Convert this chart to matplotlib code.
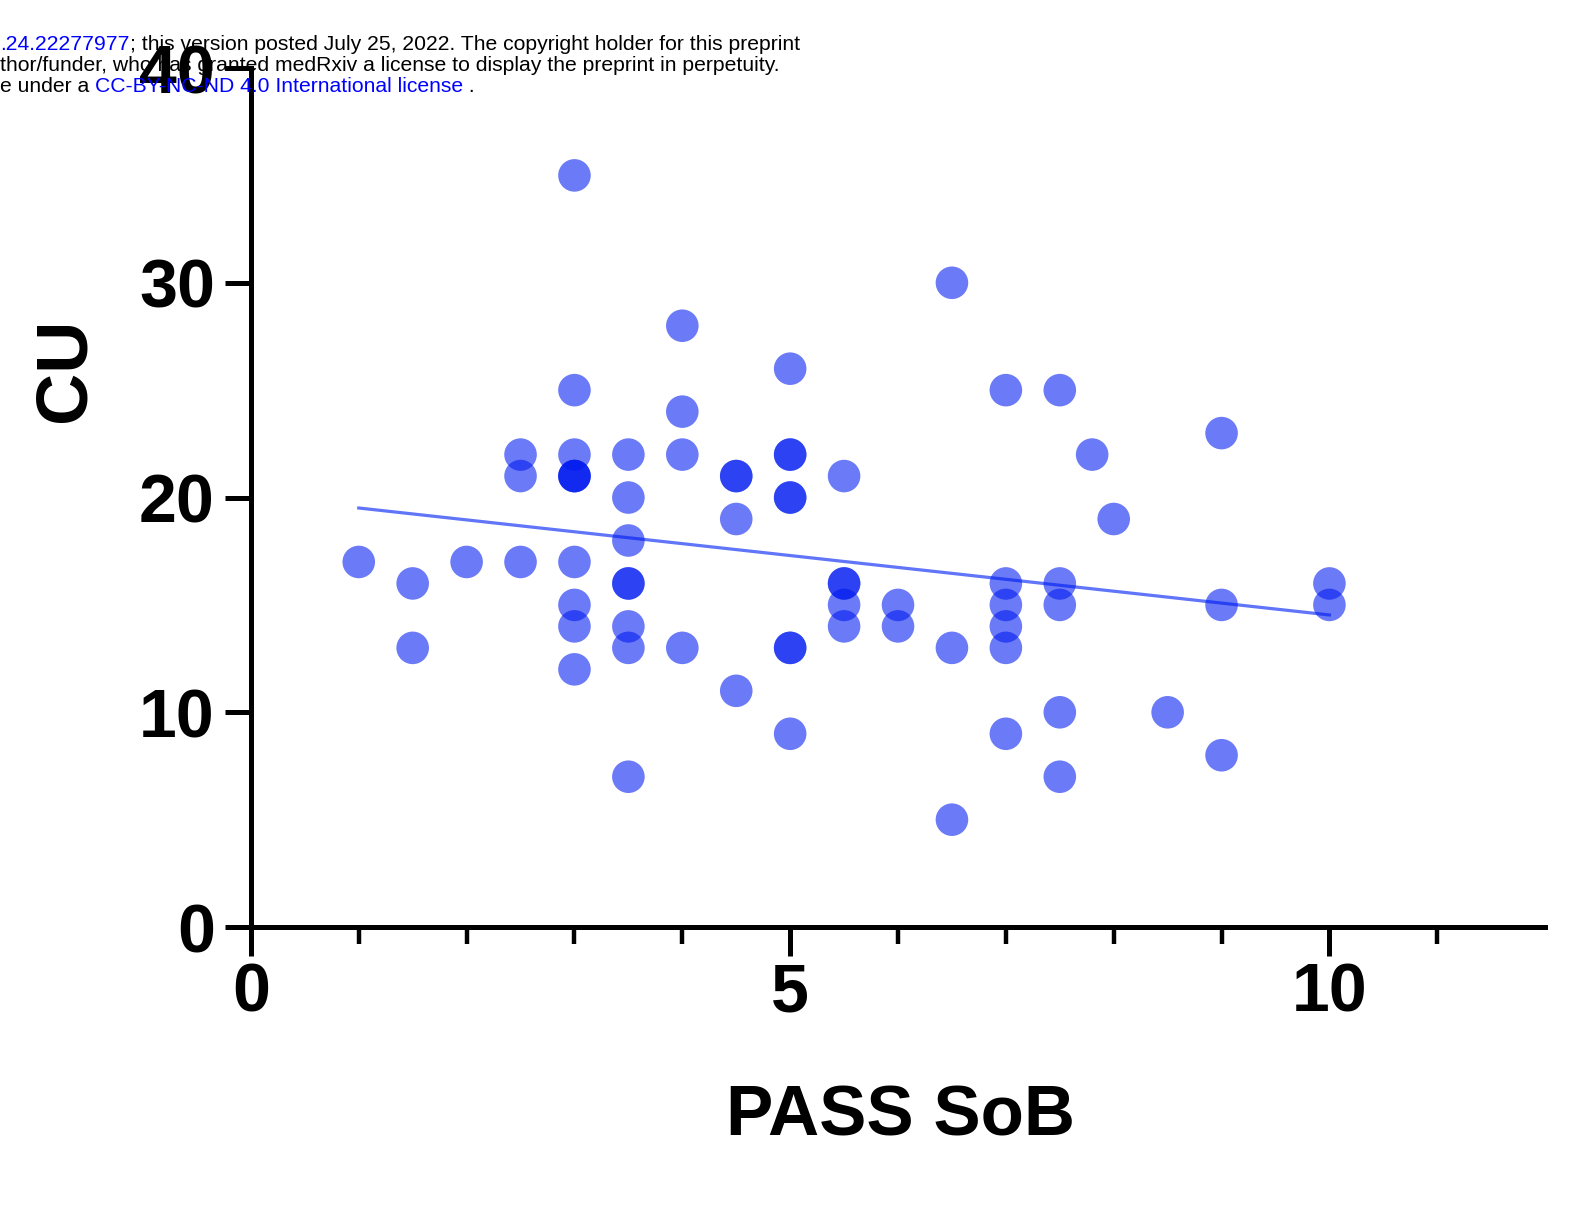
import numpy as np
import matplotlib
matplotlib.use("Agg")
import matplotlib.pyplot as plt
from matplotlib.ticker import FixedLocator

plt.rcParams['font.family'] = ['Liberation Sans', 'DejaVu Sans']

# PASS SoB vs CU (repeats = stacked dots)
pass_sob = [3, 6.5, 4, 3, 5, 7, 7.5, 4, 9,
            2.5, 3, 3.5, 4, 5, 5, 7.8,
            2.5, 3, 3, 3, 4.5, 4.5, 5.5,
            3.5, 5, 5, 4.5, 8, 3.5,
            1, 2, 2.5, 3,
            1.5, 3.5, 3.5, 5.5, 5.5, 7, 7.5, 10,
            3, 5.5, 6, 7, 7.5, 9, 10,
            3, 3.5, 5.5, 6, 7,
            1.5, 3.5, 4, 5, 5, 6.5, 7,
            3, 4.5, 7.5, 8.5, 5, 7, 9, 3.5, 7.5, 6.5]
cu = [35, 30, 28, 25, 26, 25, 25, 24, 23,
      22, 22, 22, 22, 22, 22, 22,
      21, 21, 21, 21, 21, 21, 21,
      20, 20, 20, 19, 19, 18,
      17, 17, 17, 17,
      16, 16, 16, 16, 16, 16, 16, 16,
      15, 15, 15, 15, 15, 15, 15,
      14, 14, 14, 14, 14,
      13, 13, 13, 13, 13, 13, 13,
      12, 11, 10, 10, 9, 9, 8, 7, 7, 5]

x_major = [0, 5, 10]
x_minor = [1, 2, 3, 4, 6, 7, 8, 9, 11]
y_major = [0, 10, 20, 30, 40]

dot_color = (0.0, 0.1, 0.94)

fig = plt.figure(figsize=(15.88, 12.06), dpi=100)
ax = fig.add_axes([0.158, 0.2313, 0.815, 0.7123])

ax.scatter(pass_sob, cu, s=550, color=dot_color, alpha=0.58, edgecolors='none', zorder=3)

# linear fit
x = np.array(pass_sob)
y = np.array(cu)
slope, intercept = np.polyfit(x, y, 1)
xs = np.array([x.min(), x.max()])
ax.plot(xs, slope * xs + intercept, color=(0.22, 0.32, 0.97), lw=2.3, alpha=0.8, zorder=2)

ax.set_xlim(0, 12)
ax.set_ylim(0, 40)
ax.spines['top'].set_visible(False)
ax.spines['right'].set_visible(False)
for side in ['left', 'bottom']:
    ax.spines[side].set_linewidth(3.6)

ax.xaxis.set_major_locator(FixedLocator(x_major))
ax.xaxis.set_minor_locator(FixedLocator(x_minor))
ax.yaxis.set_major_locator(FixedLocator(y_major))
ax.tick_params(axis='x', which='major', length=21, width=3.6, pad=4,
               labelsize=49)
ax.tick_params(axis='x', which='minor', length=12, width=3.2)
ax.tick_params(axis='y', which='major', length=19, width=3.6, pad=7,
               labelsize=49)
for lab in ax.get_xticklabels() + ax.get_yticklabels():
    lab.set_fontweight('bold')

fig.text(900 / 1588, 1 - 1135 / 1206, "PASS SoB", fontsize=51, fontweight='bold',
         ha='center', va='baseline')
fig.text(65 / 1588, 1 - 370 / 1206, "CU", fontsize=52, fontweight='bold',
         rotation=90, ha='center', va='center')

# medRxiv header, cut at the left edge
blue = (0, 0, 1)
hs = 15.2
t1 = fig.text(0.0, 1 - 54 / 1206, ".24.22277977", fontsize=hs, color=blue, va='bottom')
ax.annotate("; this version posted July 25, 2022. The copyright holder for this preprint",
            xy=(1, 0), xycoords=t1, fontsize=hs, va='bottom', ha='left',
            annotation_clip=False)
fig.text(0.0, 1 - 75 / 1206,
         "thor/funder, who has granted medRxiv a license to display the preprint in perpetuity.",
         fontsize=hs, va='bottom')
t3 = fig.text(0.0, 1 - 96 / 1206, "e under a ", fontsize=hs, va='bottom')
t4 = ax.annotate("CC-BY-NC-ND 4.0 International license", xy=(1, 0), xycoords=t3,
                 fontsize=hs, color=blue, va='bottom', ha='left', annotation_clip=False)
ax.annotate(" .", xy=(1, 0), xycoords=t4, fontsize=hs, va='bottom', ha='left',
            annotation_clip=False)

fig.savefig("out.png", dpi=100)
